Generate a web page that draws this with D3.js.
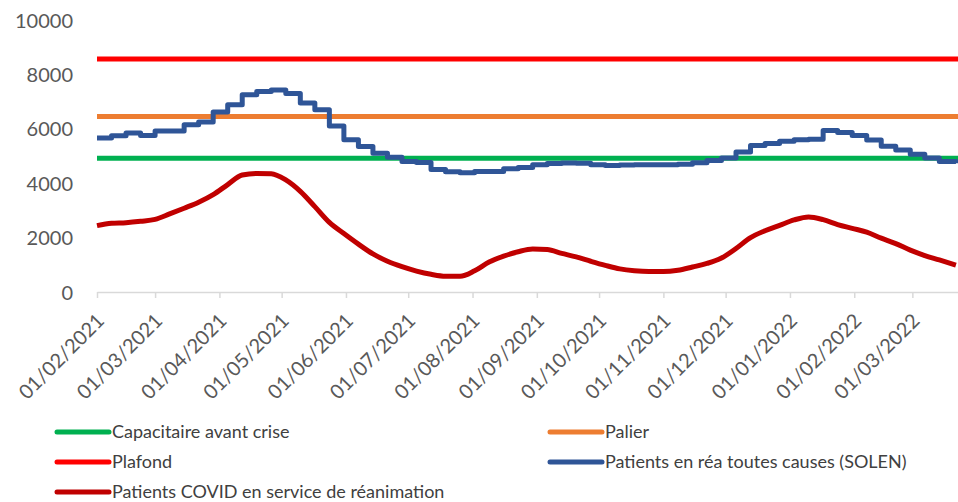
<!DOCTYPE html>
<html>
<head>
<meta charset="utf-8">
<script src="https://cdn.jsdelivr.net/npm/d3@7"></script>
<style>
  body { margin: 0; background: #fff; }
  svg { display: block; }
  .tick text { font-family: Lato, "Open Sans", sans-serif; fill: #595959; }
  .legend text { font-family: Lato, "Open Sans", sans-serif; fill: #404040; font-size: 18px; }
</style>
</head>
<body>
<div id="chart"></div>
<script>
// ---- data ----
var startDate = new Date(2021, 1, 1);   // 01/02/2021
var endDate = new Date(2022, 2, 22);    // last day drawn
var axisEnd = new Date(2022, 2, 23);

var yTicks = [0, 2000, 4000, 6000, 8000, 10000];

// flat reference levels
var capacitaire = 4920;
var palier = 6450;
var plafond = 8570;

// weekly values from 01/02/2021, last one is endDate
var solenValues = [5660, 5740, 5850, 5750, 5920, 5920, 6150, 6250, 6620, 6880,
                   7250, 7370, 7430, 7300, 6950, 6700, 6100, 5600, 5350, 5100,
                   4950, 4800, 4760, 4500, 4420, 4380, 4430, 4430, 4530, 4580,
                   4680, 4720, 4740, 4730, 4680, 4650, 4670, 4680, 4680, 4680,
                   4700, 4750, 4830, 4930, 5150, 5390, 5460, 5540, 5600, 5620,
                   5940, 5860, 5750, 5590, 5360, 5220, 5060, 4930, 4800, 4730];

var covidValues = [2440, 2530, 2550, 2600, 2670, 2870, 3080, 3300, 3580, 3950,
                   4300, 4360, 4350, 4120, 3700, 3140, 2560, 2150, 1760, 1400,
                   1130, 930, 770, 650, 580, 580, 780, 1100, 1320, 1480,
                   1580, 1560, 1420, 1290, 1130, 980, 850, 780, 750, 750,
                   800, 920, 1050, 1250, 1600, 2000, 2250, 2450, 2650, 2760,
                   2660, 2480, 2340, 2200, 1980, 1780, 1540, 1340, 1180, 990];

var legendItems = [
    {name: "Capacitaire avant crise", color: "#00B050"},
    {name: "Palier", color: "#ED7D31"},
    {name: "Plafond", color: "#FF0000"},
    {name: "Patients en réa toutes causes (SOLEN)", color: "#2F5597"},
    {name: "Patients COVID en service de réanimation", color: "#C00000"}
];

// ---- layout ----
var svgWidth = 958;
var svgHeight = 502;

var svg = d3.select("#chart")
            .append("svg")
            .attr("width", svgWidth)
            .attr("height", svgHeight);

var xScale = d3.scaleTime()
        .domain([startDate, axisEnd])
        .range([97, 958]);

var yScale = d3.scaleLinear()
        .domain([0, 10000])
        .range([292, 20]);

// dates for weekly points
var weekDates = d3.range(solenValues.length - 1).map(i => d3.timeDay.offset(startDate, 7 * i));
weekDates.push(endDate);

var solen = weekDates.map((d, i) => ({date: d, value: solenValues[i]}));
var covid = weekDates.map((d, i) => ({date: d, value: covidValues[i]}));

// y labels only
var yAxis = d3.axisLeft(yScale)
    .tickValues(yTicks)
    .tickFormat(d3.format("d"))
    .tickSize(0)
    .tickPadding(0);

var yG = svg.append("g")
    .attr("transform", "translate(73,0)")
    .call(yAxis);
yG.select(".domain").remove();
yG.selectAll("text").style("font-size", "20px").attr("dy", "0.35em");

// x axis
var xAxis = d3.axisBottom(xScale)
    .ticks(d3.timeMonth.every(1))
    .tickFormat(d3.timeFormat("%d/%m/%Y"))
    .tickSizeInner(6)
    .tickSizeOuter(0);

var xG = svg.append("g")
    .attr("transform", "translate(0,292)")
    .call(xAxis);
xG.select(".domain").attr("stroke", "#D9D9D9").attr("stroke-width", 1.5);
xG.selectAll(".tick line").attr("stroke", "#D9D9D9").attr("stroke-width", 1.5);
xG.selectAll(".tick text")
    .style("font-size", "20px")
    .attr("text-anchor", "end")
    .attr("transform", "translate(-2,20) rotate(-45)")
    .attr("dy", "0.71em")
    .attr("y", 0)
    .attr("x", 0);

// flat levels
var levels = [
    {value: capacitaire, color: "#00B050"},
    {value: palier, color: "#ED7D31"},
    {value: plafond, color: "#FF0000"}
];

svg.append("g")
    .selectAll("line")
    .data(levels)
    .enter()
    .append("line")
        .attr("x1", xScale(startDate))
        .attr("x2", xScale(axisEnd))
        .attr("y1", d => yScale(d.value))
        .attr("y2", d => yScale(d.value))
        .attr("stroke", d => d.color)
        .attr("stroke-width", 5);

// series
var stepLine = d3.line()
    .x(d => xScale(d.date))
    .y(d => yScale(d.value))
    .curve(d3.curveStepAfter);

var smoothLine = d3.line()
    .x(d => xScale(d.date))
    .y(d => yScale(d.value))
    .curve(d3.curveMonotoneX);

svg.append("path")
    .datum(solen)
    .attr("fill", "none")
    .attr("stroke", "#2F5597")
    .attr("stroke-width", 5)
    .attr("stroke-linejoin", "round")
    .attr("d", stepLine);

svg.append("path")
    .datum(covid)
    .attr("fill", "none")
    .attr("stroke", "#C00000")
    .attr("stroke-width", 5)
    .attr("stroke-linejoin", "round")
    .attr("d", smoothLine);

// legend, two columns
var legend = svg.append("g").attr("class", "legend");

var item = legend.selectAll("g")
    .data(legendItems)
    .enter()
    .append("g")
        .attr("transform", (d, i) => `translate(${i % 2 ? 548 : 55},${432 + Math.floor(i / 2) * 30})`);

item.append("line")
    .attr("x1", 2)
    .attr("x2", 54)
    .attr("stroke", d => d.color)
    .attr("stroke-width", 5)
    .attr("stroke-linecap", "round");

item.append("text")
    .attr("x", 57)
    .attr("dy", "0.35em")
    .text(d => d.name);
</script>
</body>
</html>
